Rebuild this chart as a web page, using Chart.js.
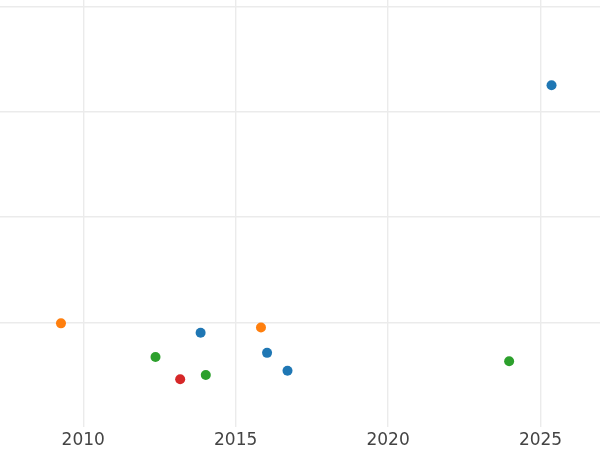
<!DOCTYPE html>
<html>
<head>
<meta charset="utf-8">
<script src="https://cdn.jsdelivr.net/npm/chart.js@4/dist/chart.umd.min.js"></script>
<style>
  html, body { margin: 0; padding: 0; background: #ffffff; }
  #wrap { width: 600px; height: 450px; }
</style>
</head>
<body>
<div id="wrap"><canvas id="c" width="600" height="450"></canvas></div>
<script>
// Data (x = year, y = arbitrary units)
const blueYears   = [2013.85, 2016.03, 2016.70, 2025.36];
const blueValues  = [90, 71, 54, 325];
const orangeYears  = [2009.27, 2015.83];
const orangeValues = [99, 95];
const greenYears  = [2012.37, 2014.02, 2023.97];
const greenValues = [67, 50, 63];
const redYears    = [2013.18];
const redValues   = [46];
const xTickLabels = [2010, 2015, 2020, 2025];
const yGridValues = [100, 200, 300, 400];

function pts(xs, ys) { return xs.map((x, i) => ({ x: x, y: ys[i] })); }

const mk = (label, xs, ys, color) => ({
  label: label,
  data: pts(xs, ys),
  backgroundColor: color,
  borderColor: color,
  borderWidth: 0,
  pointRadius: 5,
  pointHoverRadius: 5
});

new Chart(document.getElementById('c'), {
  type: 'scatter',
  data: {
    datasets: [
      mk('Blue', blueYears, blueValues, '#1f77b4'),
      mk('Orange', orangeYears, orangeValues, '#ff7f0e'),
      mk('Green', greenYears, greenValues, '#2ca02c'),
      mk('Red', redYears, redValues, '#d62728')
    ]
  },
  options: {
    responsive: false,
    animation: false,
    layout: { padding: 0, autoPadding: false },
    plugins: { legend: { display: false }, tooltip: { enabled: false } },
    scales: {
      x: {
        type: 'linear',
        min: 2007.27,
        max: 2026.95,
        afterBuildTicks: (axis) => { axis.ticks = xTickLabels.map(v => ({ value: v })); },
        ticks: {
          includeBounds: false,
          padding: 3,
          color: '#444444',
          font: { family: 'DejaVu Sans', size: 17 },
          maxRotation: 0,
          callback: (v) => String(v)
        },
        grid: { color: '#ebebeb', lineWidth: 1.4, drawTicks: false },
        border: { display: false },
        afterFit: (axis) => { axis.height = 23; }
      },
      y: {
        type: 'linear',
        min: 0.6,
        max: 406,
        afterBuildTicks: (axis) => { axis.ticks = yGridValues.map(v => ({ value: v })); },
        ticks: { display: false },
        grid: { color: '#ebebeb', lineWidth: 1.4, drawTicks: false },
        border: { display: false },
        afterFit: (axis) => { axis.width = 0; }
      }
    }
  }
});
</script>
</body>
</html>
